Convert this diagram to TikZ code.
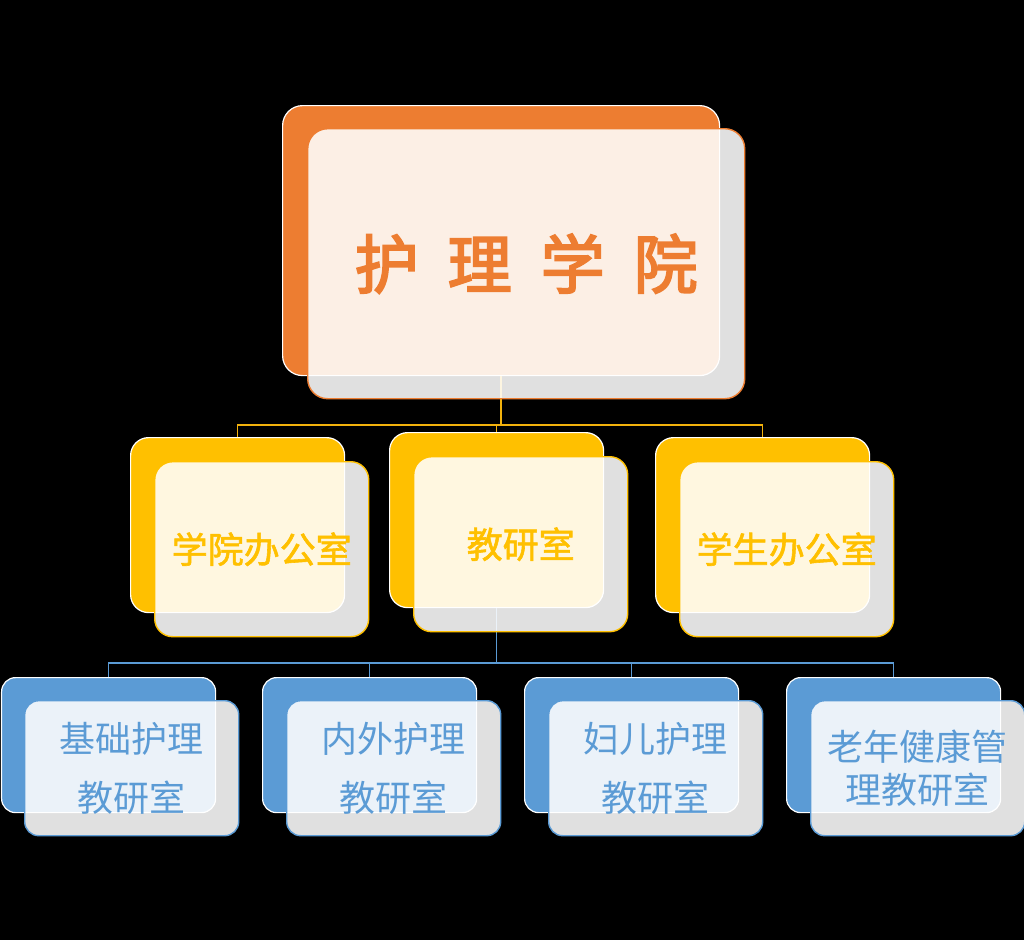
\documentclass[tikz,border=0pt]{standalone}
\usepackage{fontspec}
\newfontfamily\cjk{Noto Sans CJK SC}
\newfontfamily\cjkmid[FakeBold=1.6]{Noto Sans CJK SC}
\newfontfamily\cjkroot[FakeBold=3]{Noto Sans CJK SC}
\usetikzlibrary{positioning,calc}
\definecolor{orgn}{HTML}{ED7D31}
\definecolor{gld}{HTML}{FFC000}
\definecolor{blu}{HTML}{5B9BD5}
\definecolor{busgold}{HTML}{F2B10C}

\begin{document}
\begin{tikzpicture}[x=1pt,y=-1pt,
  back/.style={draw=white,line width=1.2pt,anchor=north west,inner sep=0pt},
  front/.style={fill=white,fill opacity=0.88,text opacity=1,line width=1.4pt,anchor=north west,inner sep=0pt,align=center},
  rootsize/.style={minimum width=437pt,minimum height=270pt,rounded corners=20pt},
  unitsize/.style={minimum width=214pt,minimum height=175pt,rounded corners=18pt},
  roomsize/.style={minimum width=214pt,minimum height=135pt,rounded corners=14pt},
  unittext/.style={text=gld,font=\cjkmid\fontsize{36}{40}\selectfont},
  roomtext/.style={text=blu,font=\cjk\fontsize{36}{59}\selectfont}]
	\fill[black] (0,0) rectangle (1024,940);
	\useasboundingbox (0,0) rectangle (1024,940);
	\node[back,rootsize,fill=orgn] (rootback) at (282,105) {};
	\node[back,unitsize,fill=gld] (officeback) at (130,437) {};
	\node[back,unitsize,fill=gld] (teachback) at (389,432) {};
	\node[back,unitsize,fill=gld] (studentback) at (655,437) {};
	\node[back,roomsize,fill=blu] (basicback) at (1,677) {};
	\node[back,roomsize,fill=blu] (medsurgback) at (262,677) {};
	\node[back,roomsize,fill=blu] (womanback) at (524,677) {};
	\node[back,roomsize,fill=blu] (elderback) at (786,677) {};
	\coordinate (goldbus) at (0,425);
	\coordinate (bluebus) at (0,663);
	\draw[busgold,line width=1.6pt] (rootback.south) -- (rootback.south |- goldbus) -| (officeback.north);
	\draw[busgold,line width=1.6pt] (rootback.south |- goldbus) -| (studentback.north);
	\draw[busgold,line width=1.6pt] (rootback.south |- goldbus) -| (teachback.north);
	\draw[blu,line width=1.6pt] (teachback.south) -- (teachback.south |- bluebus) -| (basicback.north);
	\draw[blu,line width=1.6pt] (teachback.south |- bluebus) -| (medsurgback.north);
	\draw[blu,line width=1.6pt] (teachback.south |- bluebus) -| (womanback.north);
	\draw[blu,line width=1.6pt] (teachback.south |- bluebus) -| (elderback.north);
	\node[front,rootsize,draw=orgn,text=orgn,font=\cjkroot\fontsize{64}{70}\selectfont] (root) at (307,128) {护\hspace{29pt}理\hspace{29pt}学\hspace{29pt}院};
	\node[front,unitsize,draw=gld,unittext] (office) at (154,461) {学院办公室};
	\node[front,unitsize,draw=gld,unittext] (teach) at (413,456) {教研室};
	\node[front,unitsize,draw=gld,unittext] (student) at (679,461) {学生办公室};
	\node[front,roomsize,draw=blu,roomtext] (basic) at (24,700) {基础护理\\教研室};
	\node[front,roomsize,draw=blu,roomtext] (medsurg) at (286,700) {内外护理\\教研室};
	\node[front,roomsize,draw=blu,roomtext] (woman) at (548,700) {妇儿护理\\教研室};
	\node[front,roomsize,draw=blu,roomtext,font=\cjk\fontsize{36}{43}\selectfont] (elder) at (810,700) {老年健康管\\理教研室};
\end{tikzpicture}
\end{document}
